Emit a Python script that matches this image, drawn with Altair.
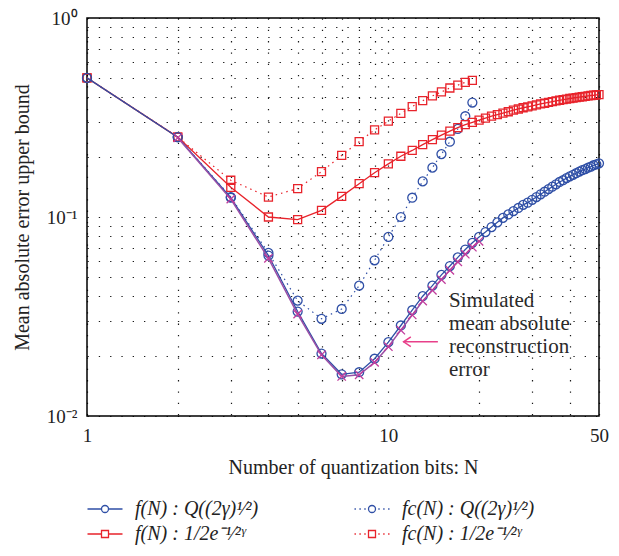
import altair as alt
import pandas as pd

# ---------------- data ----------------
N_full = list(range(1, 51))
f_q = [0.5, 0.252, 0.125, 0.064, 0.0335, 0.0206, 0.0162, 0.0166, 0.0194, 0.0235,
       0.0285, 0.034, 0.040, 0.0452, 0.0512, 0.0567, 0.0627, 0.0686, 0.0742, 0.0794,
       0.084, 0.089, 0.094, 0.099, 0.103, 0.107, 0.111, 0.115, 0.118, 0.122,
       0.126, 0.130, 0.134, 0.138, 0.142, 0.146, 0.150, 0.153, 0.157, 0.160,
       0.163, 0.166, 0.169, 0.172, 0.174, 0.177, 0.179, 0.182, 0.184, 0.186]
f_exp = [0.5, 0.252, 0.141, 0.100, 0.097, 0.108, 0.127, 0.147, 0.167, 0.185,
         0.202, 0.216, 0.231, 0.245, 0.258, 0.270, 0.281, 0.291, 0.299, 0.307,
         0.314, 0.321, 0.327, 0.333, 0.338, 0.344, 0.349, 0.354, 0.358, 0.362,
         0.366, 0.370, 0.373, 0.377, 0.380, 0.383, 0.386, 0.389, 0.391, 0.394,
         0.396, 0.398, 0.400, 0.402, 0.404, 0.406, 0.408, 0.409, 0.411, 0.412]
N_c = list(range(1, 20))
fc_q = [0.5, 0.252, 0.126, 0.066, 0.038, 0.0308, 0.0345, 0.0452, 0.0606, 0.0794,
        0.100, 0.125, 0.151, 0.177, 0.207, 0.239, 0.277, 0.321, 0.376]
fc_exp = [0.5, 0.252, 0.153, 0.126, 0.139, 0.169, 0.204, 0.239, 0.274, 0.303,
          0.332, 0.359, 0.384, 0.406, 0.425, 0.445, 0.460, 0.475, 0.486]
N_sim = list(range(2, 21))
sim = [0.250, 0.123, 0.062, 0.0325, 0.0203, 0.0158, 0.0161, 0.0186, 0.0223, 0.027,
       0.0322, 0.0378, 0.0428, 0.0485, 0.054, 0.0595, 0.065, 0.0705, 0.0755]

# legend order: column 1 = f(N), column 2 = fc(N)
series_names = ["f(N) : Q((2γ)¹⁄²)", "f(N) : 1/2e⁻¹⁄²ᵞ",
                "fc(N) : Q((2γ)¹⁄²)", "fc(N) : 1/2e⁻¹⁄²ᵞ"]

x_ticks = [1, 2, 3, 4, 5, 6, 7, 8, 9, 10, 20, 30, 40, 50]
y_ticks = [0.01, 0.02, 0.03, 0.04, 0.05, 0.06, 0.07, 0.08, 0.09,
           0.1, 0.2, 0.3, 0.4, 0.5, 0.6, 0.7, 0.8, 0.9, 1]

annot_text = ["Simulated\nmean absolute\nreconstruction\nerror"]
annot_N = [15.9]
annot_v = [0.043]
arrow_N = [11.2]
arrow_N2 = [14.6]
arrow_v = [0.0236]
arrow_head_N = [11.55]

# ---------------- style ----------------
FONT = "Liberation Serif"
BLUE = "#2f4fa6"
RED = "#e8232b"
PURPLE = "#9b4fa6"
MAGENTA = "#c23c9c"
PINK = "#e8408a"

df_fq = pd.DataFrame({"N": N_full, "v": f_q})
df_fexp = pd.DataFrame({"N": N_full, "v": f_exp})
df_fcq = pd.DataFrame({"N": N_c, "v": fc_q})
df_fcexp = pd.DataFrame({"N": N_c, "v": fc_exp})
df_sim = pd.DataFrame({"N": N_sim, "v": sim})
df_leg = pd.DataFrame({"N": [1, 1, 1, 1], "v": [0.5, 0.5, 0.5, 0.5], "series": series_names})
df_annot = pd.DataFrame({"N": annot_N, "v": annot_v, "t": annot_text})
df_arrow = pd.DataFrame({"N": arrow_N, "N2": arrow_N2, "v": arrow_v, "Nh": arrow_head_N})

W, H = 512, 398
PAD = {"left": 79, "top": 10, "right": 12, "bottom": 132}

x_enc = alt.X("N:Q",
              scale=alt.Scale(type="log", domain=[1, 50], nice=False),
              axis=alt.Axis(values=x_ticks, title="Number of quantization bits: N",
                            labelExpr="(datum.value == 1 || datum.value == 10 || datum.value == 50) ? datum.label : ''",
                            labelFlush=False, labelOverlap=False, labelPadding=10,
                            titleY=51, titleX=266, titleBaseline="middle"))
y_enc = alt.Y("v:Q",
              scale=alt.Scale(type="log", domain=[0.01, 1], nice=False),
              axis=alt.Axis(values=y_ticks, title="Mean absolute error upper bound",
                            labelExpr="datum.value > 0.99 ? '10⁰' : (abs(datum.value - 0.1) < 1e-6 ? '10⁻¹' : (abs(datum.value - 0.01) < 1e-7 ? '10⁻²' : ''))",
                            labelOverlap=False, labelPadding=10, labelFlush=False,
                            titleX=-65, titleY=H / 2, titleBaseline="middle"))

DOT = [1.5, 4]
CIRCLE_SIZE = 80
SQUARE_SIZE = 64

def line(df, color, dash=None, width=1.3):
    kw = dict(color=color, strokeWidth=width)
    if dash:
        kw["strokeDash"] = dash
    return alt.Chart(df).mark_line(**kw).encode(x=x_enc, y=y_enc)

def pts(df, shape, color, size):
    return alt.Chart(df).mark_point(shape=shape, color=color, filled=False, size=size,
                                    strokeWidth=1.3, opacity=1).encode(x=x_enc, y=y_enc)

cross_path = "M-1,-1L1,1M-1,1L1,-1"

layers = [
    line(df_fcexp, RED, DOT, 1.2),
    pts(df_fcexp, "square", RED, SQUARE_SIZE),
    line(df_fcq, BLUE, DOT, 1.2),
    pts(df_fcq, "circle", BLUE, CIRCLE_SIZE),
    line(df_fexp, RED),
    pts(df_fexp, "square", RED, SQUARE_SIZE),
    line(df_fq, BLUE),
    pts(df_fq, "circle", BLUE, CIRCLE_SIZE),
    line(df_sim, PURPLE, None, 1.5),
    pts(df_sim, cross_path, MAGENTA, 70),
]

annot = alt.Chart(df_annot).mark_text(font=FONT, fontSize=21, align="left", baseline="top",
                                      lineBreak="\n", lineHeight=23, color="#2a2a2a").encode(
    x="N:Q", y="v:Q", text="t:N")
arrow = alt.Chart(df_arrow).mark_rule(color=PINK, strokeWidth=1.5).encode(x="N:Q", x2="N2:Q", y="v:Q")
head = alt.Chart(df_arrow).mark_point(shape="M0.9,-1.2L-0.9,0L0.9,1.2", size=64, color=PINK,
                                      filled=False, strokeWidth=1.5, opacity=1).encode(x="Nh:Q", y="v:Q")

# legend symbols: line + marker paths
solid_circle = "M-1.25,0H-0.25M0.25,0H1.25M0.25,0A0.25,0.25 0 1 1 -0.25,0A0.25,0.25 0 1 1 0.25,0"
solid_square = "M-1.25,0H-0.25M0.25,0H1.25M-0.25,-0.25H0.25V0.25H-0.25Z"
dots = "M-1.25,0H-1.15M-0.9,0H-0.8M-0.55,0H-0.45M0.45,0H0.55M0.8,0H0.9M1.15,0H1.25"
dot_circle = dots + "M0.25,0A0.25,0.25 0 1 1 -0.25,0A0.25,0.25 0 1 1 0.25,0"
dot_square = dots + "M-0.25,-0.25H0.25V0.25H-0.25Z"
leg_paths = [solid_circle, solid_square, dot_circle, dot_square]

leg = alt.Legend(title=None, orient="none", legendX=3, legendY=476, direction="vertical",
                 columns=2, columnPadding=92, rowPadding=0, symbolSize=784, labelOffset=15,
                 labelFont=FONT, labelFontSize=20, labelFontStyle="italic", labelLimit=400,
                 symbolStrokeWidth=1.3, padding=0, labelColor="#222")
legend_layer = alt.Chart(df_leg).mark_point(filled=False, opacity=1, strokeWidth=1.3).encode(
    x=x_enc, y=y_enc,
    color=alt.Color("series:N", scale=alt.Scale(domain=series_names, range=[BLUE, RED, BLUE, RED]), legend=leg),
    shape=alt.Shape("series:N", scale=alt.Scale(domain=series_names, range=leg_paths), legend=leg),
).transform_filter("false")

chart = alt.layer(*layers, annot, arrow, head, legend_layer).properties(
    width=W, height=H, padding=PAD,
    autosize=alt.AutoSizeParams(type="none"),
).configure_view(stroke="black", strokeWidth=1.5).configure_axis(
    labelFont=FONT, titleFont=FONT, labelFontSize=19, titleFontSize=20,
    titleFontWeight="normal", labelColor="#222", titleColor="#222",
    grid=True, gridColor="black", gridDash=[1.3, 10], gridWidth=1.2, gridOpacity=0.9,
    ticks=False, domain=False,
)

chart.save("out.html", embed_options={"renderer": "svg", "actions": False})
